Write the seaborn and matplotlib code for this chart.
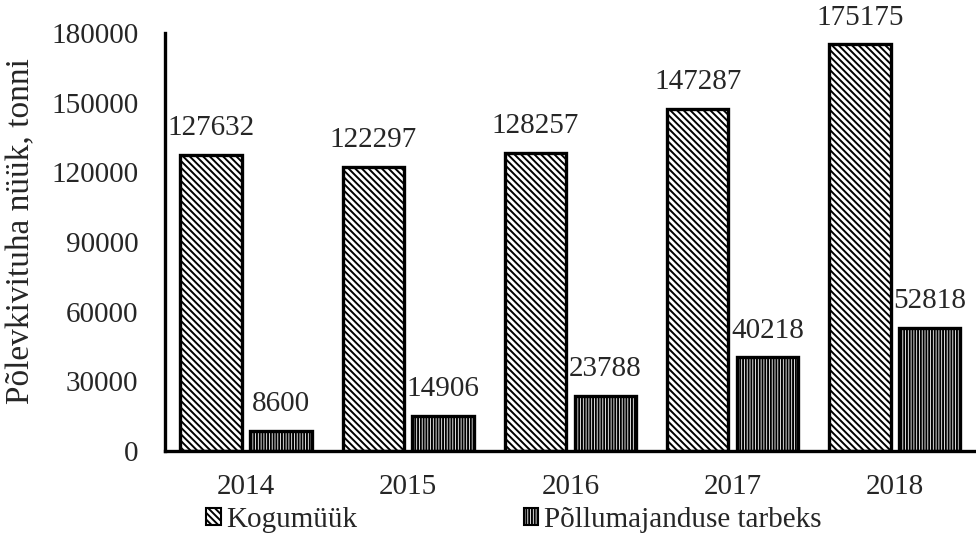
import matplotlib
matplotlib.use("Agg")
import matplotlib.pyplot as plt
import matplotlib.patches as mpatches
import pandas as pd
import seaborn as sns

years = ["2014", "2015", "2016", "2017", "2018"]
kogumyyk = [127632, 122297, 128257, 147287, 175175]
pollumajandus = [8600, 14906, 23788, 40218, 52818]
series_names = ["Kogumüük", "Põllumajanduse tarbeks"]
hatches = ["\\\\\\\\\\", "||||||"]
y_ticks = [0, 30000, 60000, 90000, 120000, 150000, 180000]

df = pd.DataFrame({
    "aasta": years * 2,
    "tonni": kogumyyk + pollumajandus,
    "seeria": [series_names[0]] * len(years) + [series_names[1]] * len(years),
})

sns.set_style("white")
plt.rcParams["font.family"] = ["Liberation Serif", "DejaVu Serif"]
plt.rcParams["hatch.color"] = "black"
plt.rcParams["hatch.linewidth"] = 1.4

fig = plt.figure(figsize=(9.76, 5.36), dpi=100)
ax = fig.add_axes([0.169, 0.159, 0.831, 0.779])

sns.barplot(data=df, x="aasta", y="tonni", hue="seeria", order=years,
            hue_order=series_names, width=0.86, gap=0.12,
            palette=["white", "white"], edgecolor="black", linewidth=2.4,
            legend=False, ax=ax)

for cont, h in zip(ax.containers, hatches):
    for p in cont:
        p.set_hatch(h)
        p.set_facecolor("white")
        p.set_edgecolor("black")
    ax.bar_label(cont, fmt="%d", padding=10, fontsize=21)

ax.set_ylim(0, 180000)
ax.set_yticks(y_ticks)
ax.set_yticklabels([str(v) for v in y_ticks])
ax.tick_params(axis="both", length=0, labelsize=21)
ax.tick_params(axis="x", pad=17)
ax.tick_params(axis="y", pad=19)
ax.set_xlabel("")
ax.set_ylabel("Põlevkivituha nüük, tonni", fontsize=24, va="center")
ax.yaxis.set_label_coords(-0.177, 0.526)

sns.despine(ax=ax, top=True, right=True)
ax.spines["left"].set_linewidth(2.4)
ax.spines["bottom"].set_linewidth(2.4)
ax.spines["left"].set_color("black")
ax.spines["bottom"].set_color("black")

handles = [mpatches.Patch(facecolor="white", edgecolor="black", hatch=h, linewidth=1.5)
           for h in hatches]
fig.legend(handles, series_names, loc="center left", bbox_to_anchor=(0.211, 0.03),
           ncol=2, frameon=False, fontsize=21, handlelength=0.5, handleheight=0.5,
           handletextpad=0.2, columnspacing=5.7, borderpad=0, borderaxespad=0)

fig.savefig("out.png", dpi=100)
